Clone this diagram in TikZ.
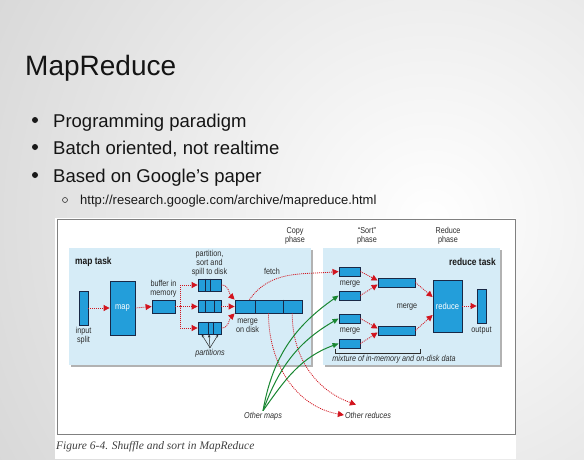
\documentclass[tikz,border=0pt]{standalone}
\usepackage{fontspec}
\setmainfont{Liberation Sans}
\newfontfamily\capfont{Liberation Serif}
\newfontfamily\figfont[FakeStretch=0.84]{Liberation Sans}
\usetikzlibrary{arrows.meta, positioning, calc}
\definecolor{BoxBlue}{RGB}{35,158,218}
\definecolor{BoxLine}{RGB}{25,40,70}
\definecolor{PanelBlue}{RGB}{214,236,247}
\definecolor{FlowRed}{RGB}{210,20,30}
\definecolor{FlowGreen}{RGB}{25,135,50}
\definecolor{FigText}{RGB}{45,45,45}

\begin{document}
\begin{tikzpicture}[x=1pt, y=-1pt,
      blk/.style={draw=BoxLine, fill=BoxBlue, line width=0.8pt, inner sep=0pt,
                  text=white, font=\figfont\fontsize{9}{10}\selectfont},
      lbl/.style={font=\figfont\fontsize{8.6}{9}\selectfont, text=FigText, align=center, inner sep=1pt},
      emlbl/.style={lbl, font=\figfont\itshape\fontsize{8.6}{9}\selectfont},
      panelttl/.style={lbl, font=\figfont\bfseries\fontsize{10}{11}\selectfont, text=black!90},
      redflow/.style={FlowRed, line width=0.8pt, dash pattern=on 1pt off 1pt,
                      -{Triangle[length=6pt, width=6pt]}},
      greenflow/.style={FlowGreen, line width=1pt, -{Triangle[length=6pt, width=5pt]}},
      bullet/.style={anchor=base west, inner sep=0pt, font=\fontsize{18.5}{22}\selectfont, text=black!92}
    ]
  \useasboundingbox (0,0) rectangle (584,459);
  % slide background
  \fill[black!16] (0,0) rectangle (584,459);
  \begin{scope}
    \clip (0,0) rectangle (584,459);
    \shade[inner color=white, outer color=black!16] (430,220) circle (520);
  \end{scope}

  % title and bullets
  \node[anchor=base west, inner sep=0pt, font=\fontsize{28}{32}\selectfont, text=black!92] (title) at (25,75) {MapReduce};
  \foreach \n/\t/\y in {b1/{Programming paradigm}/127, b2/{Batch oriented, not realtime}/154, b3/{Based on Google’s paper}/182} {
    \fill[black!90] (35,\y-7) circle (3);
    \node[bullet] (\n) at (53,\y) {\t};
  }
  \draw[black!80, line width=0.6pt] (65,200) circle (2.5);
  \node[anchor=base west, inner sep=0pt, font=\fontsize{13}{15}\selectfont, text=black!90] (url) at (80,204) {http://research.google.com/archive/mapreduce.html};

  % figure area
  \fill[white] (55,218) rectangle (516,459);
  \draw[black!50, line width=1pt] (57,219) rectangle (515,434);
  \fill[black!30] (71,250) rectangle (313,367);
  \fill[black!30] (325,250) rectangle (502,367);
  \fill[PanelBlue] (69,248) rectangle (311,365);
  \fill[PanelBlue] (323,248) rectangle (500,365);

  \node[panelttl, anchor=west] (maptask) at (74,262) {map task};
  \node[panelttl, anchor=east] (redtask) at (497,262) {reduce task};
  \node[lbl] (copyph) at (295,236) {Copy\\phase};
  \node[lbl] (sortph) at (367,236) {“Sort”\\phase};
  \node[lbl] (reduceph) at (448,236) {Reduce\\phase};

  % map side
  \node[blk, minimum width=9pt, minimum height=34pt] (split) at (83.5,308) {};
  \node[lbl, below=1pt of split] (splitlbl) {input\\split};
  \node[blk, minimum width=25pt, minimum height=54pt] (map) at (122.5,308) {map};
  \node[blk, minimum width=23pt, minimum height=13pt] (buffer) at (163.5,306.5) {};
  \node[lbl, above=1pt of buffer] (bufferlbl) {buffer in\\memory};
  \foreach \n/\y/\a/\b in {p1/285/0.33/0.55, p2/306.5/0.33/0.7, p3/328/0.45/0.65} {
    \node[blk, minimum width=23pt, minimum height=12pt] (\n) at (209.5,\y) {};
    \draw[BoxLine, line width=0.8pt] ($(\n.north west)!\a!(\n.north east)$) -- ($(\n.south west)!\a!(\n.south east)$);
    \draw[BoxLine, line width=0.8pt] ($(\n.north west)!\b!(\n.north east)$) -- ($(\n.south west)!\b!(\n.south east)$);
  }
  \node[lbl, above=1pt of p1] (spilllbl) {partition,\\sort and\\spill to disk};
  \node[emlbl] (parts) at (210,353) {partitions};
  \foreach \f in {0.17,0.48,0.87}
    \draw[black!85, line width=0.5pt, -{Stealth[length=3pt, width=2.5pt]}] (parts.north) -- ($(p3.south west)!\f!(p3.south east)$);
  \node[blk, minimum width=67pt, minimum height=13pt] (disk) at (268.5,306.5) {};
  \foreach \f in {0.3,0.72}
    \draw[BoxLine, line width=0.8pt] ($(disk.north west)!\f!(disk.north east)$) -- ($(disk.south west)!\f!(disk.south east)$);
  \node[lbl, anchor=north west] (disklbl) at (235,318) {merge\\on disk};
  \node[lbl] (fetchlbl) at (272,271) {fetch};

  % reduce side
  \foreach \n/\y in {m1/271.5, m2/295.5, m3/318.5, m4/343.5}
    \node[blk, minimum width=21pt, minimum height=9pt] (\n) at (349.5,\y) {};
  \node[lbl] (mlbl1) at (350,284) {merge};
  \node[lbl] (mlbl2) at (350,331) {merge};
  \node[blk, minimum width=37pt, minimum height=9pt] (ma) at (396.5,282.5) {};
  \node[blk, minimum width=37pt, minimum height=9pt] (mb) at (396.5,330.5) {};
  \node[lbl] (mlbl3) at (407,307) {merge};
  \node[blk, minimum width=29pt, minimum height=52pt] (rdc) at (447.5,306) {reduce};
  \node[blk, minimum width=9pt, minimum height=34pt] (outp) at (481.5,306) {};
  \node[lbl, below=2pt of outp] (outlbl) {output};
  \draw[FigText, line width=0.5pt] (335,349) -- (335,353) -- (420,353) -- (420,349);
  \node[emlbl] (mixlbl) at (394,359) {mixture of in-memory and on-disk data};

  \node[emlbl] (omaps) at (263,416) {Other maps};
  \node[emlbl] (oreds) at (368,415) {Other reduces};
  \coordinate (oredtop) at ($(oreds.north west)+(12,-6)$);

  \node[anchor=west, inner sep=0pt, font=\capfont\itshape\fontsize{11.5}{13}\selectfont, text=black!75] (caption) at (56,447) {Figure 6-4. Shuffle and sort in MapReduce};

  % flows
  \draw[redflow] (split.east) -- (map.west);
  \draw[redflow] (map.east) -- (buffer.west);
  \draw[redflow] (buffer.east) -- ++(5,0) |- (p1.west);
  \draw[redflow] (buffer.east) -- (p2.west);
  \draw[redflow] (buffer.east) -- ++(5,0) |- (p3.west);
  \draw[redflow] (p1.east) to[out=0, in=135] (disk.north west);
  \draw[redflow] (p2.east) -- (disk.west);
  \draw[redflow] (p3.east) to[out=0, in=-135] (disk.south west);
  \draw[redflow] ($(disk.north west)!0.22!(disk.north east)$) to[out=55, in=185] (m1.west);
  \draw[redflow] ($(disk.south west)!0.5!(disk.south east)$) to[out=-90, in=170] (oreds.west);
  \draw[redflow] ($(disk.south west)!0.85!(disk.south east)$) to[out=-90, in=160] (oredtop);
  \draw[greenflow] (omaps.north) to[out=80, in=215] (m2.west);
  \draw[greenflow] (omaps.north) to[out=70, in=210] (m3.west);
  \draw[greenflow] (omaps.north) to[out=55, in=200] (m4.west);
  \draw[redflow] (m1.east) -- ([yshift=2pt]ma.west);
  \draw[redflow] (m2.east) -- ([yshift=-2pt]ma.west);
  \draw[redflow] (m3.east) -- ([yshift=2pt]mb.west);
  \draw[redflow] (m4.east) -- ([yshift=-2pt]mb.west);
  \draw[redflow] (ma.east) -- ([yshift=9pt]rdc.west);
  \draw[redflow] (mb.east) -- ([yshift=-9pt]rdc.west);
  \draw[redflow] (rdc.east) -- (outp.west);
\end{tikzpicture}
\end{document}
